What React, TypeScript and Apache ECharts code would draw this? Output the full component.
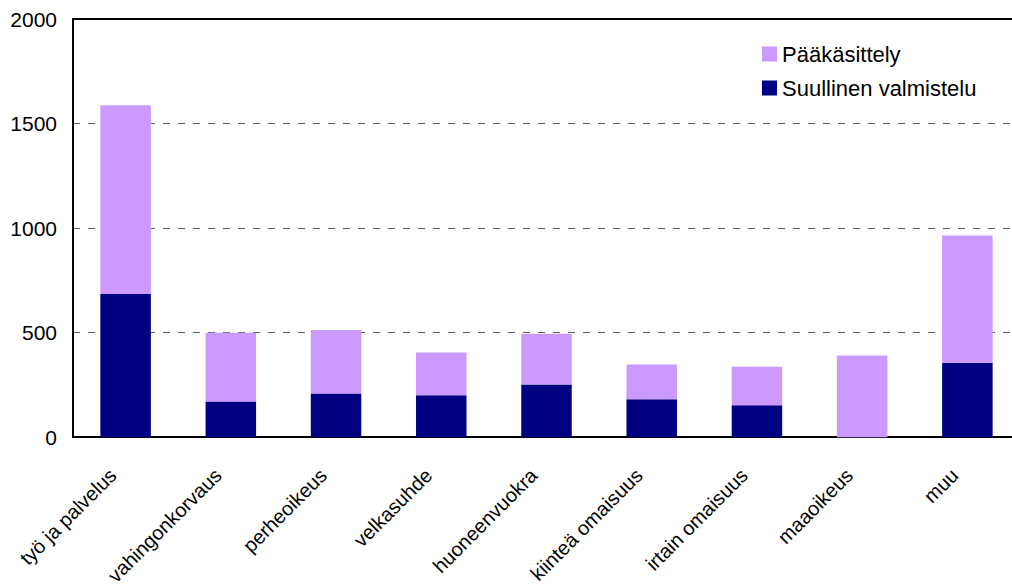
import React, { useEffect, useRef } from "react";
import * as echarts from "echarts";

const categories = [
  "työ ja palvelus",
  "vahingonkorvaus",
  "perheoikeus",
  "velkasuhde",
  "huoneenvuokra",
  "kiinteä omaisuus",
  "irtain omaisuus",
  "maaoikeus",
  "muu",
];
const suullinenValmistelu = [685, 171, 209, 200, 252, 181, 153, 0, 356];
const paakasittely = [902, 328, 304, 205, 243, 167, 184, 390, 608];
const yTicks = { min: 0, max: 2000, interval: 500 };

const FONT = "'Liberation Sans', Arial, Helvetica, sans-serif";

export default function App() {
  const ref = useRef<HTMLDivElement>(null);
  useEffect(() => {
    if (!ref.current) return;
    const chart = echarts.init(ref.current, undefined, { renderer: "svg" });
    chart.setOption({
      animation: false,
      backgroundColor: "#ffffff",
      textStyle: { fontFamily: FONT },
      grid: { left: 73, right: 0, top: 19, bottom: 148, containLabel: false },
      legend: {
        data: ["Pääkäsittely", "Suullinen valmistelu"],
        orient: "vertical",
        left: 757,
        top: 38,
        itemWidth: 15,
        itemHeight: 15,
        itemGap: 12,
        icon: "rect",
        selectedMode: false,
        textStyle: { fontSize: 22, color: "#000000", fontFamily: FONT },
      },
      xAxis: [
        {
          type: "category",
          data: categories,
          position: "bottom",
          axisLine: { show: true, lineStyle: { color: "#000000", width: 2 } },
          axisTick: { show: false },
          axisLabel: {
            rotate: 45,
            interval: 0,
            margin: 22,
            padding: [0, 18, 0, 0],
            fontSize: 20,
            color: "#000000",
            fontFamily: FONT,
          },
        },
        {
          type: "category",
          data: categories,
          position: "top",
          axisLine: { show: true, lineStyle: { color: "#000000", width: 2 } },
          axisTick: { show: false },
          axisLabel: { show: false },
        },
      ],
      yAxis: {
        type: "value",
        min: yTicks.min,
        max: yTicks.max,
        interval: yTicks.interval,
        axisLine: { show: true, lineStyle: { color: "#000000", width: 2 } },
        axisTick: { show: false },
        axisLabel: {
          fontSize: 21,
          color: "#000000",
          margin: 16,
          fontFamily: FONT,
          formatter: (v: number) => String(v),
        },
        splitLine: {
          show: true,
          lineStyle: { color: "#606060", width: 1, type: [7, 8] },
        },
      },
      series: [
        {
          name: "Suullinen valmistelu",
          type: "bar",
          stack: "total",
          barWidth: "48%",
          data: suullinenValmistelu,
          itemStyle: { color: "#000080" },
        },
        {
          name: "Pääkäsittely",
          type: "bar",
          stack: "total",
          barWidth: "48%",
          data: paakasittely,
          itemStyle: { color: "#CC99FF" },
        },
      ],
    });
    return () => chart.dispose();
  }, []);
  return (
    <div style={{ position: "absolute", left: 0, top: 0, width: 1012, height: 588, overflow: "hidden" }}>
      <div ref={ref} style={{ width: 1020, height: 588 }} />
    </div>
  );
}
